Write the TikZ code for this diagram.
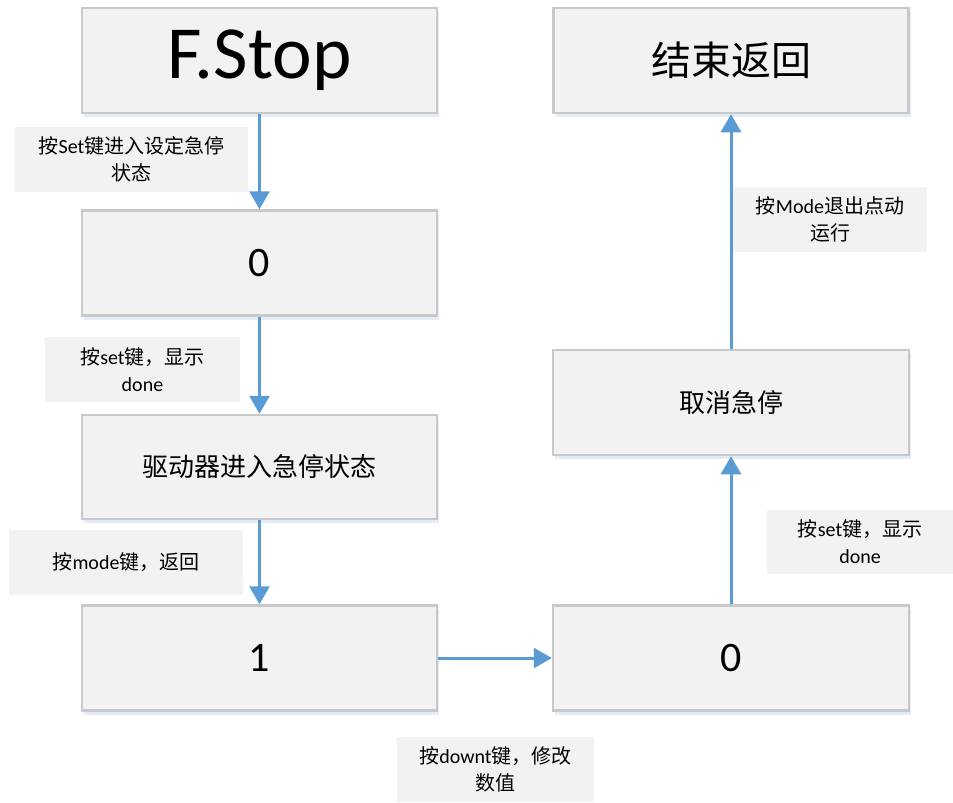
\documentclass[tikz,border=0pt]{standalone}
\usepackage{fontspec}
\setmainfont{Noto Sans CJK SC}
\newfontfamily\latf{Carlito}
\newcommand\La[1]{{\latf #1}}
\usetikzlibrary{arrows.meta,shadows}
\definecolor{boxfill}{HTML}{F2F2F2}
\definecolor{boxline}{HTML}{C9C9C9}
\definecolor{arr}{HTML}{5B9BD5}
\definecolor{glow}{HTML}{DCE8F5}
\tikzset{
  stepbox/.style={draw=boxline, line width=2.5pt, fill=boxfill, minimum width=355pt, minimum height=105pt, inner sep=0pt,
    drop shadow={shadow xshift=2pt, shadow yshift=-4pt, fill=glow, opacity=0.8}},
  lbl/.style={fill=boxfill, draw=none, inner sep=0pt, align=center, font=\fontsize{20pt}{27pt}\selectfont},
  flow/.style={draw=arr, line width=3pt, -{Triangle[width=20pt,length=18pt]}},
}
\begin{document}
\begin{tikzpicture}[x=1pt,y=-1pt]
\useasboundingbox (0,0) rectangle (953,803);
\fill[white] (0,0) rectangle (953,803);
% boxes
\node[stepbox, font=\latf\fontsize{75pt}{80pt}\selectfont] (fstop) at (259.5,60.5) {F.Stop};
\node[stepbox, font=\fontsize{40pt}{44pt}\selectfont] (endb) at (731,60.5) {结束返回};
\node[stepbox, font=\latf\fontsize{42pt}{46pt}\selectfont] (z1) at (259.5,263) {0};
\node[stepbox, minimum height=104pt, font=\fontsize{26pt}{30pt}\selectfont] (drv) at (259.5,467) {驱动器进入急停状态};
\node[stepbox, font=\latf\fontsize{42pt}{46pt}\selectfont] (one) at (259.5,658) {1};
\node[stepbox, minimum width=356pt, font=\latf\fontsize{42pt}{46pt}\selectfont] (z2) at (731,658) {0};
\node[stepbox, minimum width=356pt, font=\fontsize{26pt}{30pt}\selectfont] (cancel) at (731,402.5) {取消急停};
% labels
\node[lbl, minimum width=233pt, minimum height=65pt] (l1) at (131.5,159.5) {按\La{Set}键进入设定急停\\状态};
\node[lbl, minimum width=195pt, minimum height=65pt] (l2) at (142.5,369.5) {按\La{set}键，显示\\\La{done}};
\node[lbl, minimum width=234pt, minimum height=65pt] (l3) at (126,562.5) {按\La{mode}键，返回};
\node[lbl, minimum width=197pt, minimum height=65pt] (l4) at (495.5,769.5) {按\La{downt}键，修改\\数值};
\node[lbl, minimum width=186pt, minimum height=64pt] (l5) at (860,542) {按\La{set}键，显示\\\La{done}};
\node[lbl, minimum width=194pt, minimum height=65pt] (l6) at (830,219.5) {按\La{Mode}退出点动\\运行};
% arrows
\draw[flow] (fstop) -- (z1);
\draw[flow] (z1) -- (drv);
\draw[flow] (drv) -- (one);
\draw[flow] (one) -- (z2);
\draw[flow] (z2) -- (cancel);
\draw[flow] (cancel) -- (endb);
\end{tikzpicture}
\end{document}
